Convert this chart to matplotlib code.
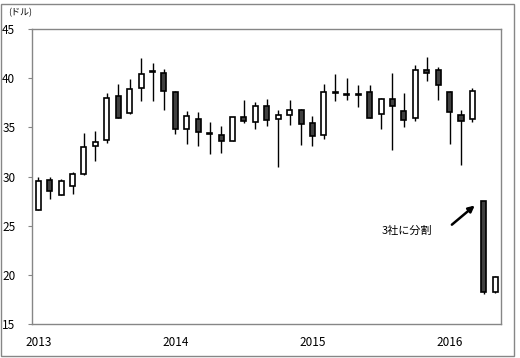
import matplotlib
matplotlib.use('Agg')
import matplotlib.pyplot as plt
from matplotlib.patches import Rectangle

plt.rcParams['font.family'] = ['Noto Sans CJK JP', 'DejaVu Sans']

# Monthly OHLC, Jan 2013 - May 2016 (USD)
opens = [26.6, 29.6, 28.1, 29.0, 30.3, 33.1, 33.7, 38.2, 36.5, 39.0, 40.7, 40.5,
         38.6, 34.8, 35.8, 34.4, 34.2, 33.6, 36.0, 35.5, 37.2, 35.8, 36.3, 36.8,
         35.4, 34.2, 38.6, 38.4, 38.4, 38.6, 36.4, 37.9, 36.7, 35.9, 40.8, 40.8,
         38.6, 36.3, 35.8, 27.5, 18.3]
highs = [29.9, 30.0, 29.7, 30.5, 34.4, 34.6, 38.5, 39.4, 39.9, 42.1, 41.5, 40.9,
         38.7, 36.7, 36.6, 35.5, 35.1, 36.1, 37.8, 37.6, 37.9, 36.8, 37.8, 36.9,
         36.2, 39.4, 40.4, 40.0, 39.3, 39.3, 38.0, 40.5, 38.5, 41.3, 42.2, 41.1,
         38.7, 36.8, 39.0, 27.5, 19.9]
lows = [26.6, 27.7, 28.1, 28.2, 30.2, 31.6, 33.4, 35.9, 36.4, 37.7, 37.7, 36.8,
        34.3, 33.3, 33.1, 32.3, 32.4, 33.6, 35.4, 34.8, 35.1, 31.0, 35.2, 33.2,
        33.1, 33.8, 37.7, 37.8, 37.1, 35.9, 34.8, 32.7, 35.0, 35.6, 39.7, 37.8,
        33.3, 31.2, 35.5, 18.1, 18.2]
closes = [29.5, 28.5, 29.5, 30.3, 33.0, 33.5, 38.0, 36.0, 38.9, 40.4, 40.6, 38.7,
          34.8, 36.2, 34.5, 34.3, 33.6, 36.1, 35.6, 37.2, 35.7, 36.3, 36.8, 35.3,
          34.1, 38.6, 38.5, 38.3, 38.3, 36.0, 37.9, 37.2, 35.7, 40.8, 40.5, 39.3,
          36.6, 35.6, 38.7, 18.3, 19.8]
year_labels = ['2013', '2014', '2015', '2016']
note = '3社に分割'

fig = plt.figure(figsize=(5.2, 3.58), dpi=100)
ax = fig.add_axes([32/520, 34/358, 469/520, 295/358])

# outer chart border
fig.patches.append(Rectangle((0.5/520, 2/358), 513.5/520, 352/358, transform=fig.transFigure,
                             fill=False, edgecolor='#868686', linewidth=1.0))

w = 0.44
for i in range(len(opens)):
    o, h, l, c = opens[i], highs[i], lows[i], closes[i]
    ax.vlines(i, l, h, color='black', linewidth=1.0, zorder=1)
    bottom = min(o, c)
    height = max(abs(c - o), 0.08)
    face = 'white' if c >= o else '#404040'
    ax.add_patch(Rectangle((i - w/2, bottom), w, height, facecolor=face,
                           edgecolor='black', linewidth=1.2, zorder=2))

ax.set_xlim(-0.55, 40.5)
ax.set_ylim(15, 45)
ax.set_yticks([15, 20, 25, 30, 35, 40, 45])
ax.set_xticks([0, 12, 24, 36])
ax.set_xticklabels(year_labels)
ax.tick_params(axis='x', length=0, pad=9, labelsize=8.5)
ax.tick_params(axis='y', length=3, width=0.8, color='#868686', pad=9, labelsize=8.5)
for s in ax.spines.values():
    s.set_color('#868686')
    s.set_linewidth(1.0)

fig.text(8/520, 1 - 13/358, '(ドル)', fontsize=6.5, va='center', ha='left')

ax.text(32.3, 24.5, note, fontsize=8, ha='center', va='center')
ax.annotate('', xy=(38.2, 27.05), xytext=(36.2, 25.1),
            arrowprops=dict(arrowstyle='-|>', color='black', lw=1.8,
                            mutation_scale=9, shrinkA=0, shrinkB=0))

fig.savefig('out.png', dpi=100)
